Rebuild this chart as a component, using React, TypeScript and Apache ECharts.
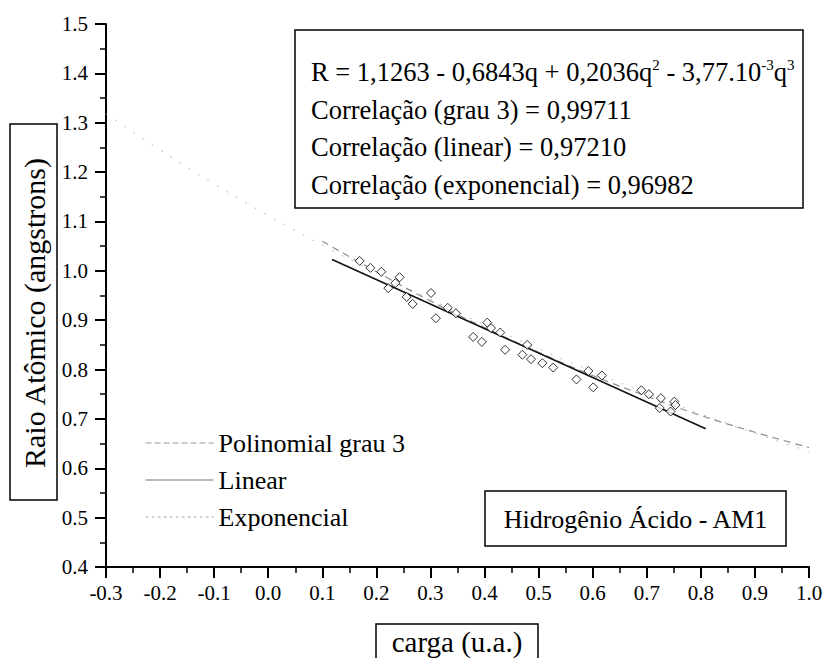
import React, { useEffect, useRef } from "react";
import * as echarts from "echarts";

const FONT = "Liberation Serif";

// experimental points (carga, raio)
const chargeData = [0.169, 0.189, 0.209, 0.222, 0.235, 0.243, 0.256, 0.267, 0.301, 0.310, 0.332, 0.347, 0.379, 0.395, 0.405, 0.412, 0.429, 0.438, 0.470, 0.479, 0.486, 0.507, 0.527, 0.570, 0.592, 0.601, 0.617, 0.690, 0.704, 0.724, 0.726, 0.744, 0.751, 0.753];
const radiusData = [1.020, 1.006, 0.998, 0.965, 0.975, 0.987, 0.947, 0.933, 0.955, 0.904, 0.925, 0.914, 0.866, 0.856, 0.895, 0.884, 0.875, 0.840, 0.830, 0.850, 0.821, 0.813, 0.804, 0.780, 0.797, 0.764, 0.788, 0.758, 0.750, 0.722, 0.742, 0.715, 0.735, 0.728];

// fitted curves
const polyQ = [0.10, 0.20, 0.30, 0.40, 0.50, 0.60, 0.70, 0.80, 0.90, 1.00];
const polyR = [1.060, 0.998, 0.939, 0.885, 0.835, 0.788, 0.746, 0.707, 0.673, 0.642];
const linQ = [0.118, 0.809];
const linR = [1.023, 0.680];
const expQ = [-0.3, -0.2, -0.1, 0.0, 0.1, 0.2, 0.3, 0.4, 0.5, 0.6, 0.7, 0.8, 0.9, 1.0];
const expR = [1.318, 1.245, 1.176, 1.112, 1.052, 0.996, 0.942, 0.891, 0.842, 0.796, 0.752, 0.710, 0.671, 0.634];

// tick labels
const xTickLabels = ["-0.3", "-0.2", "-0.1", "0.0", "0.1", "0.2", "0.3", "0.4", "0.5", "0.6", "0.7", "0.8", "0.9", "1.0"];
const yTickLabels = ["0.4", "0.5", "0.6", "0.7", "0.8", "0.9", "1.0", "1.1", "1.2", "1.3", "1.4", "1.5"];

const seriesNames = ["Polinomial grau 3", "Linear", "Exponencial"];
const infoLines = [
  "R = 1,1263 - 0,6843q + 0,2036q{s|2} - 3,77.10{s|-3}q{s|3}",
  "Correlação (grau 3) = 0,99711",
  "Correlação (linear) = 0,97210",
  "Correlação (exponencial) = 0,96982",
];
const sampleLabel = "Hidrogênio Ácido - AM1";
const xTitle = "carga (u.a.)";
const yTitle = "Raio Atômico (angstrons)";

const X_MIN = -0.3;
const X_MAX = 1.0;
const Y_MIN = 0.4;
const Y_MAX = 1.5;

const zip = (a: number[], b: number[]) => a.map((v, i) => [v, b[i]]);

export default function App() {
  const ref = useRef<HTMLDivElement>(null);
  useEffect(() => {
    if (!ref.current) return;
    const chart = echarts.init(ref.current, null, { renderer: "svg" });
    const axisCommon = {
      axisLine: { show: true, onZero: false, lineStyle: { color: "#000", width: 2 } },
      axisTick: { show: true, inside: false, length: 11, lineStyle: { color: "#000", width: 2 } },
      minorTick: { show: true, splitNumber: 2, length: 6, lineStyle: { color: "#000", width: 1.5 } },
      axisLabel: { show: false },
      splitLine: { show: false },
      minorSplitLine: { show: false },
    };
    const tickTextStyle = { fill: "#000", fontSize: 21, fontFamily: FONT };
    chart.setOption({
      animation: false,
      backgroundColor: "#fff",
      grid: { left: 106, right: 18, top: 24, bottom: 91 },
      xAxis: { type: "value", min: X_MIN, max: X_MAX, interval: 0.1, ...axisCommon },
      yAxis: { type: "value", min: Y_MIN, max: Y_MAX, interval: 0.1, ...axisCommon },
      legend: {
        orient: "vertical",
        left: 140,
        top: 425,
        itemWidth: 68,
        itemHeight: 14,
        itemGap: 11,
        selectedMode: false,
        textStyle: { color: "#000", fontSize: 26, fontFamily: FONT, lineHeight: 26 },
        data: [
          { name: seriesNames[0], itemStyle: { opacity: 0 }, lineStyle: { color: "#999", width: 1.2, type: [6, 3] } },
          { name: seriesNames[1], itemStyle: { opacity: 0 }, lineStyle: { color: "#777", width: 1.2, type: "solid" } },
          { name: seriesNames[2], itemStyle: { opacity: 0 }, lineStyle: { color: "#aaa", width: 1.2, type: [3, 3] } },
        ],
      },
      series: [
        {
          name: seriesNames[0],
          type: "line",
          data: zip(polyQ, polyR),
          smooth: true,
          symbol: "none",
          itemStyle: { color: "#8f8f8f" },
          lineStyle: { color: "#8f8f8f", width: 1.2, type: [7, 5] },
          z: 3,
        },
        {
          name: seriesNames[1],
          type: "line",
          data: zip(linQ, linR),
          symbol: "none",
          itemStyle: { color: "#111" },
          lineStyle: { color: "#111", width: 1.6, type: "solid" },
          z: 4,
        },
        {
          name: seriesNames[2],
          type: "line",
          data: zip(expQ, expR),
          smooth: true,
          symbol: "none",
          itemStyle: { color: "#bbb" },
          lineStyle: { color: "#bbb", width: 1, type: [2, 9] },
          z: 2,
        },
        {
          name: "Dados",
          type: "scatter",
          data: zip(chargeData, radiusData),
          symbol: "diamond",
          symbolSize: 9,
          itemStyle: { color: "#fff", borderColor: "#000", borderWidth: 1 },
          z: 5,
        },
        {
          name: "xTicks",
          type: "custom",
          silent: true,
          clip: false,
          data: xTickLabels.map((t) => [parseFloat(t), Y_MIN]),
          renderItem: (params: any, api: any) => {
            const p = api.coord([api.value(0), api.value(1)]);
            return {
              type: "text",
              x: p[0],
              y: p[1] + 15,
              style: { ...tickTextStyle, text: xTickLabels[params.dataIndex], align: "center", verticalAlign: "top" },
            };
          },
        },
        {
          name: "yTicks",
          type: "custom",
          silent: true,
          clip: false,
          data: yTickLabels.map((t) => [X_MIN, parseFloat(t)]),
          renderItem: (params: any, api: any) => {
            const p = api.coord([api.value(0), api.value(1)]);
            return {
              type: "text",
              x: p[0] - 18,
              y: p[1],
              style: { ...tickTextStyle, text: yTickLabels[params.dataIndex], align: "right", verticalAlign: "middle" },
            };
          },
        },
      ],
      graphic: [
        {
          type: "rect",
          shape: { x: 295, y: 30, width: 508, height: 178 },
          style: { fill: "#fff", stroke: "#000", lineWidth: 1.5 },
          z: 10,
        },
        ...infoLines.map((t, i) => ({
          type: "text",
          x: 311,
          y: 72 + i * 37.5,
          z: 11,
          style: {
            text: t,
            fill: "#000",
            fontSize: 26.5,
            fontFamily: FONT,
            verticalAlign: "middle",
            align: "left",
            lineHeight: 30,
            rich: { s: { fontSize: 15, fontFamily: FONT, verticalAlign: "top", lineHeight: 12, fill: "#000" } },
          },
        })),
        {
          type: "rect",
          shape: { x: 485, y: 491, width: 301, height: 55 },
          style: { fill: "#fff", stroke: "#000", lineWidth: 1.5 },
          z: 10,
        },
        {
          type: "text",
          x: 635.5,
          y: 519,
          z: 11,
          style: { text: sampleLabel, fill: "#000", fontSize: 26, fontFamily: FONT, align: "center", verticalAlign: "middle" },
        },
        {
          type: "rect",
          shape: { x: 10, y: 124, width: 47, height: 376 },
          style: { fill: "#fff", stroke: "#000", lineWidth: 1.5 },
          z: 10,
        },
        {
          type: "text",
          x: 34,
          y: 313,
          rotation: Math.PI / 2,
          z: 11,
          style: { text: yTitle, fill: "#000", fontSize: 30, fontFamily: FONT, align: "center", verticalAlign: "middle" },
        },
        {
          type: "rect",
          shape: { x: 376, y: 624, width: 162, height: 45 },
          style: { fill: "#fff", stroke: "#000", lineWidth: 1.5 },
          z: 10,
        },
        {
          type: "text",
          x: 457,
          y: 642,
          z: 11,
          style: { text: xTitle, fill: "#000", fontSize: 29, fontFamily: FONT, align: "center", verticalAlign: "middle" },
        },
      ],
    });
    return () => chart.dispose();
  }, []);
  return (
    <div
      ref={ref}
      style={{ position: "fixed", left: 0, top: 0, width: 827, height: 658, background: "#fff" }}
    />
  );
}
